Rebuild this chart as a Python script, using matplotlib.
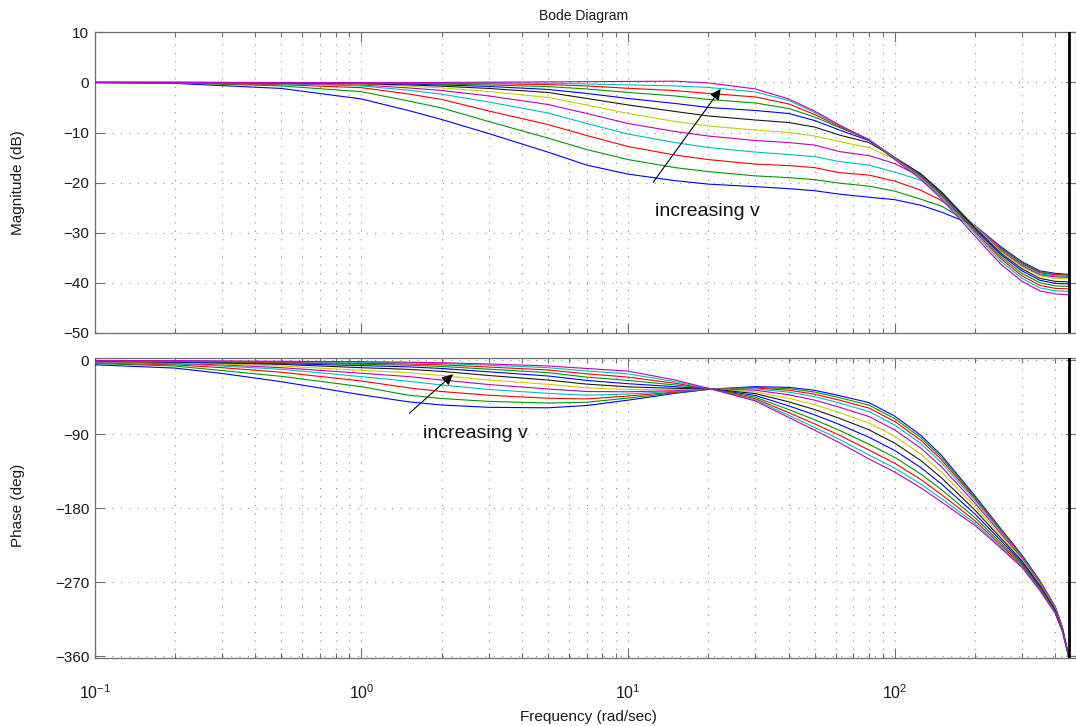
import matplotlib
matplotlib.use('Agg')
import matplotlib.pyplot as plt
from matplotlib.ticker import FixedLocator, FixedFormatter, NullFormatter, LogLocator

plt.rcParams['font.family'] = ['Liberation Sans', 'DejaVu Sans']
plt.rcParams['mathtext.default'] = 'regular'
plt.rcParams['lines.scale_dashes'] = False

# ---------------- data ----------------
freq_mag = [0.1, 0.2, 0.5, 1, 1.5, 2, 3, 5, 7, 10, 15, 20, 30, 40, 50, 62, 80,
            100, 125, 150, 200, 250, 300, 350, 400, 448.8]

mag_v1 = [-0.05, -0.2, -1.2, -3.3, -5.6, -7.4, -10.2, -13.9, -16.5, -18.3, -19.6, -20.3, -20.8,
          -21.2, -21.6, -22.3, -22.9, -23.4, -24.5, -25.9, -28.6, -32.8, -35.8, -37.6, -38.1, -38.3]
mag_v2 = [-0.03, -0.1, -0.7, -1.85, -3.7, -5.1, -7.8, -11.1, -13.4, -15.4, -17.0, -17.8, -18.65,
          -19.0, -19.4, -20.1, -20.7, -21.7, -23.3, -24.7, -28.6, -33.0, -36.0, -37.8, -38.3, -38.4]
mag_v3 = [-0.02, -0.07, -0.45, -1.05, -2.3, -3.4, -5.7, -8.4, -10.6, -12.8, -14.5, -15.4, -16.3,
          -16.6, -17.0, -18.0, -18.5, -19.7, -21.5, -23.6, -28.6, -33.2, -36.2, -38.0, -38.4, -38.5]
mag_v4 = [-0.01, -0.05, -0.3, -0.7, -1.55, -2.35, -3.9, -6.1, -8.2, -10.3, -12.0, -13.0, -13.9,
          -14.4, -14.8, -15.8, -16.5, -17.9, -19.5, -22.8, -28.6, -33.4, -36.4, -38.2, -38.6, -38.7]
mag_v5 = [0.0, -0.03, -0.2, -0.5, -1.1, -1.6, -2.7, -4.4, -6.2, -8.2, -9.8, -10.7, -11.6,
          -12.0, -12.5, -13.8, -14.6, -16.2, -18.8, -22.3, -28.7, -33.6, -36.6, -38.4, -38.8, -38.9]
mag_v6 = [0.0, -0.02, -0.14, -0.35, -0.75, -1.1, -1.8, -3.0, -4.5, -6.2, -7.8, -8.7, -9.5,
          -10.0, -10.7, -11.8, -13.0, -15.3, -18.3, -21.9, -28.8, -33.8, -36.8, -38.6, -39.1, -39.2]
mag_v7 = [0.0, -0.01, -0.1, -0.25, -0.5, -0.75, -1.2, -2.0, -3.2, -4.5, -5.8, -6.7, -7.5,
          -8.0, -8.9, -10.5, -12.0, -15.0, -18.2, -21.9, -29.0, -34.1, -37.2, -39.1, -39.7, -39.8]
mag_v8 = [0.0, 0.0, -0.07, -0.18, -0.32, -0.5, -0.8, -1.4, -2.2, -3.2, -4.2, -5.0, -5.6,
          -6.2, -7.6, -9.5, -11.6, -15.0, -18.3, -22.1, -29.2, -34.4, -37.6, -39.5, -40.1, -40.2]
mag_v9 = [0.0, 0.0, -0.05, -0.12, -0.2, -0.33, -0.5, -0.83, -1.3, -2.0, -2.7, -3.4, -4.1,
          -5.2, -6.9, -9.0, -11.4, -15.0, -18.5, -22.3, -29.5, -34.8, -38.1, -40.0, -40.6, -40.7]
mag_v10 = [0.0, 0.0, -0.03, -0.08, -0.12, -0.2, -0.25, -0.43, -0.7, -1.17, -1.63, -2.2, -2.9,
           -4.3, -6.4, -8.8, -11.4, -15.1, -18.7, -22.6, -29.8, -35.2, -38.6, -40.5, -41.1, -41.2]
mag_v11 = [0.0, 0.0, -0.02, -0.05, -0.06, -0.1, -0.1, -0.17, -0.3, -0.5, -0.7, -1.0, -1.9,
           -3.6, -6.0, -8.6, -11.4, -15.2, -19.0, -22.9, -30.2, -35.7, -39.1, -41.0, -41.6, -41.7]
mag_v12 = [0.0, 0.0, -0.01, -0.03, -0.02, 0.0, 0.05, 0.1, 0.15, 0.2, 0.25, -0.1, -1.3,
           -3.3, -5.7, -8.5, -11.5, -15.4, -19.3, -23.3, -30.7, -36.3, -39.7, -41.6, -42.2, -42.4]

freq_phase = [0.1, 0.2, 0.3, 0.5, 1, 1.5, 2, 3, 5, 7, 10, 15, 20.5, 30, 40, 50, 62, 80,
              100, 125, 150, 200, 250, 300, 350, 400, 425, 448.8]

phase_v1 = [-5.5, -9.5, -16, -26, -42, -50.5, -54.4, -57.2, -57.8, -55.0, -48.5, -40.2, -35, -32.1,
            -32.9, -36.5, -43.0, -51.5, -68.0, -91.0, -116.0, -165.0, -205.0, -237.0, -268.0, -300.0, -325.0, -360]
phase_v2 = [-4.0, -7.0, -12.5, -19.5, -32.1, -42.5, -46.5, -50.0, -52.0, -51.0, -46.0, -39.4, -35, -32.9,
            -34.5, -38.6, -45.5, -54.5, -71.0, -93.8, -118.5, -166.6, -206.0, -237.7, -268.5, -300.4, -325.2, -360]
phase_v3 = [-3.0, -5.5, -9.0, -14.5, -25.2, -33.5, -38.0, -42.5, -46.2, -47.0, -43.5, -38.6, -35, -33.8,
            -36.4, -41.2, -48.5, -58.1, -74.5, -97.1, -121.4, -168.5, -207.3, -238.4, -269.2, -300.8, -325.5, -360]
phase_v4 = [-2.4, -4.5, -7.0, -11.0, -19.9, -25.5, -30.0, -35.5, -40.2, -42.5, -41.0, -37.8, -35, -34.8,
            -38.7, -44.2, -52.0, -62.3, -78.7, -101.1, -124.9, -170.7, -208.7, -239.4, -269.9, -301.3, -325.8, -360]
phase_v5 = [-1.9, -3.7, -5.6, -9.0, -15.8, -19.8, -24.0, -29.5, -34.9, -38.0, -38.3, -37.0, -35, -36.4,
            -41.9, -48.4, -57.1, -68.4, -84.7, -106.7, -129.9, -173.9, -210.8, -240.7, -271.0, -302.0, -326.2, -360]
phase_v6 = [-1.5, -3.0, -4.5, -7.0, -12.2, -15.2, -18.5, -24.0, -29.2, -33.5, -35.5, -35.7, -35, -38.4,
            -46.1, -54.0, -63.6, -76.2, -92.5, -114.0, -136.3, -178.0, -213.5, -242.4, -272.3, -302.9, -326.8, -360]
phase_v7 = [-1.2, -2.4, -3.4, -5.0, -9.0, -11.0, -13.5, -18.5, -24.0, -29.0, -32.3, -34.1, -35, -40.5,
            -50.5, -59.9, -70.6, -84.5, -100.8, -121.8, -143.2, -182.4, -216.3, -244.2, -273.8, -303.9, -327.4, -360]
phase_v8 = [-0.9, -1.9, -2.7, -4.0, -6.5, -8.0, -10.0, -14.0, -19.1, -24.5, -28.5, -32.1, -35, -42.8,
            -55.4, -66.3, -78.1, -93.6, -109.8, -130.3, -150.7, -187.1, -219.4, -246.2, -275.4, -304.9, -328.1, -360]
phase_v9 = [-0.7, -1.5, -2.1, -3.2, -4.9, -6.0, -7.5, -10.8, -15.0, -20.5, -24.5, -30.0, -35, -44.9,
            -59.9, -72.2, -85.2, -102.0, -118.1, -138.2, -157.6, -191.5, -222.3, -248.1, -276.8, -305.9, -328.7, -360]
phase_v10 = [-0.5, -1.1, -1.6, -2.5, -3.7, -4.4, -5.6, -8.2, -11.8, -16.5, -20.5, -28.0, -35, -46.8,
             -63.7, -77.3, -91.2, -109.2, -125.3, -144.9, -163.6, -195.3, -224.8, -249.6, -278.1, -306.7, -329.2, -360]
phase_v11 = [-0.3, -0.8, -1.2, -1.8, -2.5, -3.2, -4.0, -6.0, -9.0, -13.0, -16.5, -26.0, -35, -48.3,
             -66.9, -81.6, -96.2, -115.2, -131.2, -150.5, -168.5, -198.5, -226.9, -251.0, -279.2, -307.4, -329.6, -360]
phase_v12 = [-0.2, -0.5, -0.8, -1.2, -1.7, -2.3, -3.0, -4.5, -6.9, -10.0, -13.2, -24.0, -35, -49.5,
             -69.5, -85.0, -100.2, -120.0, -136.0, -155.0, -172.5, -201.0, -228.5, -252.0, -280.0, -308.0, -330.0, -360]

mag_curves = [mag_v1, mag_v2, mag_v3, mag_v4, mag_v5, mag_v6,
              mag_v7, mag_v8, mag_v9, mag_v10, mag_v11, mag_v12]
phase_curves = [phase_v1, phase_v2, phase_v3, phase_v4, phase_v5, phase_v6,
                phase_v7, phase_v8, phase_v9, phase_v10, phase_v11, phase_v12]

nyquist_freq = 448.8
mag_ticks = [10, 0, -10, -20, -30, -40, -50]
phase_ticks = [0, -90, -180, -270, -360]
freq_ticks = [0.1, 1, 10, 100]
freq_tick_labels = [r'$10^{-1}$', r'$10^{0}$', r'$10^{1}$', r'$10^{2}$']

# MATLAB default colour order, cycled
color_order = [(0, 0, 1), (0, 0.6, 0), (1, 0, 0), (0, 0.75, 0.75),
               (0.75, 0, 0.75), (0.8, 0.8, 0), (0.1, 0.1, 0.1)]

# ---------------- figure ----------------
W, H = 1076, 726
fig = plt.figure(figsize=(W / 100, H / 100), dpi=100)
fig.patch.set_facecolor('white')


def px_rect(left, top, right, bottom):
    return [left / W, 1 - bottom / H, (right - left) / W, (bottom - top) / H]


ax1 = fig.add_axes(px_rect(94.7, 32.3, 1076, 333.0))
ax2 = fig.add_axes(px_rect(94.7, 358.3, 1076, 658.3))

spine_col = '#6e6e6e'
grid_kw = dict(color='#8a8a8a', linestyle=(0, (0.8, 5.3)), linewidth=0.8)

for ax in (ax1, ax2):
    ax.set_xscale('log')
    ax.set_xlim(0.1, 478)
    ax.xaxis.set_major_locator(FixedLocator(freq_ticks))
    ax.xaxis.set_minor_locator(LogLocator(base=10, subs=range(2, 10), numticks=20))
    ax.xaxis.set_minor_formatter(NullFormatter())
    ax.grid(True, which='major', axis='both', **grid_kw)
    ax.grid(True, which='minor', axis='x', **grid_kw)
    ax.set_axisbelow(True)
    for s in ax.spines.values():
        s.set_color(spine_col)
        s.set_linewidth(0.9)
    ax.tick_params(which='both', direction='in', top=True, right=True,
                   color=spine_col, width=0.8, labelcolor='#1a1a1a', labelsize=11)
    ax.tick_params(which='major', length=7)
    ax.tick_params(which='minor', length=3.5)
    ax.tick_params(axis='y', pad=4)
    ax.axvline(nyquist_freq, color='black', linewidth=2.0, zorder=5)

for i, curve in enumerate(mag_curves):
    ax1.plot(freq_mag, curve, color=color_order[i % 7], linewidth=0.8, zorder=3)
for i, curve in enumerate(phase_curves):
    ax2.plot(freq_phase, curve, color=color_order[i % 7], linewidth=0.8, zorder=3)

ax1.set_ylim(-50, 10)
ax1.yaxis.set_major_locator(FixedLocator(mag_ticks))
ax1.tick_params(axis='x', labelbottom=False)

ax2.set_ylim(-362.4, 2.4)
ax2.yaxis.set_major_locator(FixedLocator(phase_ticks))
ax2.xaxis.set_major_formatter(FixedFormatter(freq_tick_labels))
ax2.tick_params(axis='x', which='major', pad=18, labelsize=11.5)

# annotations
arrow_kw = dict(arrowstyle='-|>', color='black', lw=0.8, mutation_scale=16,
                shrinkA=0, shrinkB=0)
ax1.annotate('', xy=(22.24, -1.3), xytext=(12.43, -19.9), arrowprops=arrow_kw, zorder=6)
ax1.text(12.62, -25.7, 'increasing v', fontsize=14, ha='left', va='center', color='#111111')
ax2.annotate('', xy=(2.206, -17.0), xytext=(1.512, -64.5), arrowprops=arrow_kw, zorder=6)
ax2.text(1.697, -88.5, 'increasing v', fontsize=14, ha='left', va='center', color='#111111')

# labels
fig.text(18 / W, 1 - 182.7 / H, 'Magnitude (dB)', rotation=90, ha='center', va='center',
         fontsize=11, color='#1a1a1a')
fig.text(18 / W, 1 - 505 / H, 'Phase (deg)', rotation=90, ha='center', va='center',
         fontsize=11, color='#1a1a1a')
fig.text(588 / W, 1 - 717 / H, 'Frequency (rad/sec)', ha='center', va='center',
         fontsize=11, color='#1a1a1a')
fig.text(584 / W, 1 - 16 / H, 'Bode Diagram', ha='center', va='center',
         fontsize=10, color='#1a1a1a')

fig.savefig('out.png', dpi=100, facecolor='white')
